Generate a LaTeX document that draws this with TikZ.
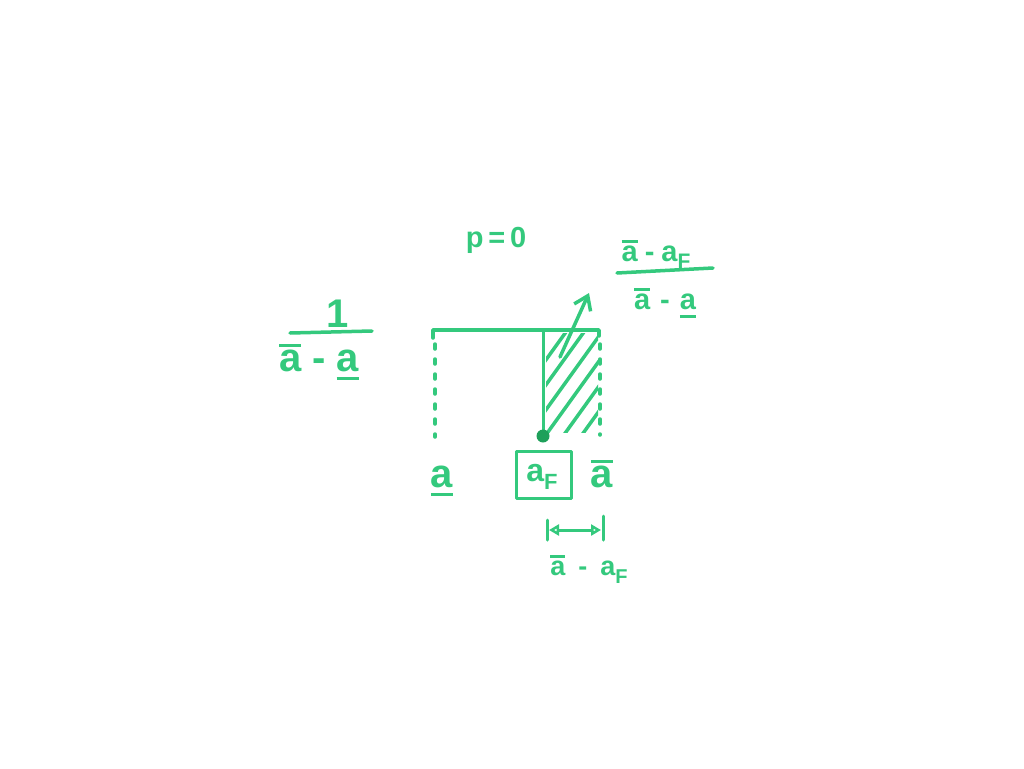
\documentclass[tikz,border=0pt]{standalone}
\usepackage{fontspec}
\setmainfont{Liberation Sans}
\usetikzlibrary{arrows.meta,calc}
\definecolor{ink}{RGB}{52,201,125}
\definecolor{dotc}{RGB}{30,160,90}
\newcommand{\ovA}{\leavevmode\vbox{\hrule height 3pt\kern3pt\hbox{a}}}
\newcommand{\unA}{\leavevmode\vtop{\hbox{a}\kern5pt\hrule height 3pt}}
\newcommand{\subF}[2]{a\raisebox{#1}{\fontsize{#2}{#2}\selectfont F}}
\tikzset{
  inkline/.style={draw=ink, line width=3.5pt, line cap=round, line join=round},
  dotline/.style={inkline, dash pattern=on 5pt off 10pt},
  big/.style={text=ink, font=\fontsize{40}{42}\selectfont\bfseries, inner sep=0pt},
  small/.style={text=ink, font=\fontsize{29}{31}\selectfont\bfseries, inner sep=0pt},
}
\begin{document}
\begin{tikzpicture}[x=1pt,y=-1pt]
\useasboundingbox (0,0) rectangle (1024,768);

% key coordinates
\coordinate (TL) at (433,330);
\coordinate (TR) at (599,330);
\coordinate (TM) at (543,330);
\coordinate (F)  at (543,436);
\coordinate (LB) at (435,437);
\coordinate (RB) at (600,435);

% hatching
\begin{scope}
  \clip (546,333) rectangle (598,432);
  \foreach \c in {805,823,841,859,877,895}{
    \draw[inkline] ({\c-0.72*300},300) -- ({\c-0.72*460},460);
  }
\end{scope}

% top line and ticks
\draw[inkline] ($(TL)+(0,8)$) -- (TL) -- (TR) -- ($(TR)+(0,6)$);
% dotted verticals
\draw[dotline] ($(TL)+(2,14)$) -- (LB);
\draw[dotline] ($(TR)+(1,14)$) -- (RB);
% solid vertical to dot
\draw[inkline, line width=3pt] (TM) -- (F);
\fill[dotc] (F) circle (6.5);

% arrow to the fraction
\coordinate (as) at (560,357);
\coordinate (ae) at (589,293);
\draw[inkline, -{Straight Barb[length=13pt,width=18pt,line width=3.5pt]}] (as) -- (ae);

% labels
\node[small] (p0) at (496,240) {p\,=\,0};

\node[big] (lnum) at (338,314) {1};
\draw[inkline] (290,333) -- (372,331);
\node[big] (lden) at (319,362) {\ovA\hspace{11pt}-\hspace{11pt}\unA};

\node[small] (rnum) at (656,254) {\ovA\hspace{7pt}-\hspace{7pt}\subF{-7pt}{21}};
\draw[inkline] (617,273) -- (713,268);
\node[small] (rden) at (665,303) {\ovA\hspace{10pt}-\hspace{10pt}\unA};

\node[big] (alow) at (442,481) {\unA};
\node[inkline, line width=3pt, minimum width=55pt, minimum height=47pt, inner sep=0pt] (box) at (544,475) {};
\node[big, font=\fontsize{32}{34}\selectfont\bfseries] (aF) at (542,477) {\subF{-8pt}{22}};
\node[big] (ahi) at (602,474) {\ovA};

% dimension
\coordinate (d1) at (547,530);
\coordinate (d2) at (603,530);
\draw[inkline, line width=3pt] ($(d1)+(0,-10)$) -- ($(d1)+(0,10)$);
\draw[inkline, line width=3pt] ($(d2)+(0,-14)$) -- ($(d2)+(0,10)$);
\draw[inkline, line width=3pt, {Triangle[open,length=10pt,width=11pt]}-{Triangle[open,length=10pt,width=11pt]}] ($(d1)+(2,0)$) -- ($(d2)+(-2,0)$);
\node[small, font=\fontsize{27}{29}\selectfont\bfseries] (dlab) at (589,569) {\ovA\hspace{13pt}-\hspace{13pt}\subF{-8pt}{20}};
\end{tikzpicture}
\end{document}
